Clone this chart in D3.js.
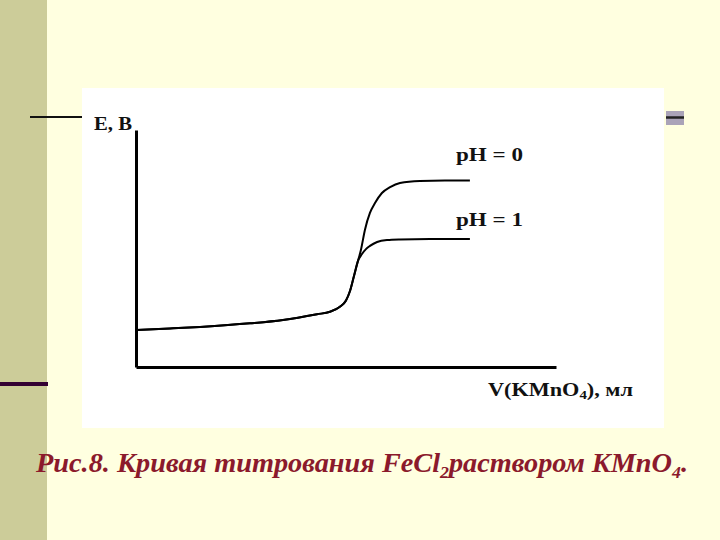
<!DOCTYPE html>
<html>
<head>
<meta charset="utf-8">
<script src="https://cdn.jsdelivr.net/npm/d3@7"></script>
</head>
<body style="margin:0;background:#ffffe0">
<script>
// Titration curve readings: V(KMnO4), ml  vs  E, V
const volume = [0, 1.62, 3.05, 5.43, 7.0, 8.62, 9.24, 9.71, 10.0, 10.19, 10.38, 10.57, 10.71, 10.9, 11.14, 11.38, 11.71, 12.1, 12.57, 13.52, 14.71, 15.9];
const ePH0   = [0.587, 0.595, 0.603, 0.621, 0.638, 0.667, 0.68, 0.705, 0.737, 0.785, 0.861, 0.937, 0.992, 1.094, 1.18, 1.23, 1.281, 1.311, 1.332, 1.342, 1.344, 1.344];

// pH = 1 branch leaves the common part after V = 10.57
const branchAt = 12;
const volumePH1 = [10.76, 10.95, 11.14, 11.48, 11.95, 12.57, 14.0, 15.9];
const ePH1      = [0.972, 0.997, 1.013, 1.033, 1.043, 1.046, 1.048, 1.048];

const seriesLabels = ["pH = 0", "pH = 1"];
const yLabel = "E, B";
const caption = ["Рис.8. Кривая титрования FeCl", "2", "раствором KMnO", "4", "."];

const width = 720, height = 540;
const serif = 'Liberation Serif';

const svg = d3.select('body')
    .append('svg')
    .attr('width', width)
    .attr('height', height)
    .style('display', 'block')
    .style('font-family', serif);

// slide background
svg.append('rect').attr('width', width).attr('height', height).attr('fill', '#ffffe0');
svg.append('rect').attr('x', 0).attr('y', 0).attr('width', 47).attr('height', height).attr('fill', '#cccc99');
svg.append('rect').attr('x', 0).attr('y', 382).attr('width', 48).attr('height', 4).attr('fill', '#330033');
svg.append('line').attr('x1', 30).attr('x2', 82).attr('y1', 117).attr('y2', 117)
    .attr('stroke', '#111').attr('stroke-width', 2);

// white picture area
svg.append('rect').attr('x', 82).attr('y', 88).attr('width', 582).attr('height', 340).attr('fill', '#ffffff');

// small gray marker on the right
svg.append('rect').attr('x', 666).attr('y', 111).attr('width', 18).attr('height', 14).attr('fill', '#aaa3b8');
svg.append('line').attr('x1', 666).attr('x2', 684).attr('y1', 117.5).attr('y2', 117.5)
    .attr('stroke', '#222').attr('stroke-width', 2.5);

// scales
const x = d3.scaleLinear().domain([0, 20]).range([136, 556]);
const y = d3.scaleLinear().domain([0.4, 1.6]).range([367, 130]);

// axes (no ticks in the original)
const g = svg.append('g');
g.append('g')
    .attr('transform', `translate(0,${y(0.4)})`)
    .call(d3.axisBottom(x).ticks(0).tickSizeOuter(0))
    .call(a => a.select('.domain').attr('stroke', '#000').attr('stroke-width', 3));
g.append('g')
    .attr('transform', `translate(${x(0)},0)`)
    .call(d3.axisLeft(y).ticks(0).tickSizeOuter(0))
    .call(a => a.select('.domain').attr('stroke', '#000').attr('stroke-width', 3));

const line = d3.line()
    .x(d => x(d[0]))
    .y(d => y(d[1]))
    .curve(d3.curveMonotoneX);

const pts0 = volume.map((v, i) => [v, ePH0[i]]);
const pts1 = volume.slice(0, branchAt).map((v, i) => [v, ePH0[i]])
    .concat(volumePH1.map((v, i) => [v, ePH1[i]]));

[pts0, pts1].forEach(p => {
    g.append('path')
        .datum(p)
        .attr('d', line)
        .attr('fill', 'none')
        .attr('stroke', '#000')
        .attr('stroke-width', 2);
});

// labels
function label(xp, yp, len) {
    return g.append('text')
        .attr('x', xp).attr('y', yp)
        .attr('font-size', 18)
        .attr('fill', '#111')
        .attr('textLength', len)
        .attr('lengthAdjust', 'spacingAndGlyphs')
        .style('font-family', serif)
        .style('font-weight', 'bold');
}
label(94, 130, 38).text(yLabel);
label(456, 161, 67).text(seriesLabels[0]);
label(456, 226, 67).text(seriesLabels[1]);

const xl = label(488, 396, 145);
xl.append('tspan').text('V(KMnO');
xl.append('tspan').attr('font-size', 12).attr('dy', 3).text('4');
xl.append('tspan').attr('dy', -3).text('), мл');

// caption
const cap = svg.append('text')
    .attr('x', 36).attr('y', 472)
    .attr('font-size', 27)
    .attr('fill', '#8b1a2c')
    .attr('textLength', 652)
    .attr('lengthAdjust', 'spacingAndGlyphs')
    .style('font-family', serif)
    .style('font-style', 'italic')
    .style('font-weight', 'bold');
cap.append('tspan').text(caption[0]);
cap.append('tspan').attr('font-size', 17).attr('dy', 6).text(caption[1]);
cap.append('tspan').attr('dy', -6).text(caption[2]);
cap.append('tspan').attr('font-size', 17).attr('dy', 6).text(caption[3]);
cap.append('tspan').attr('dy', -6).text(caption[4]);
</script>
</body>
</html>
